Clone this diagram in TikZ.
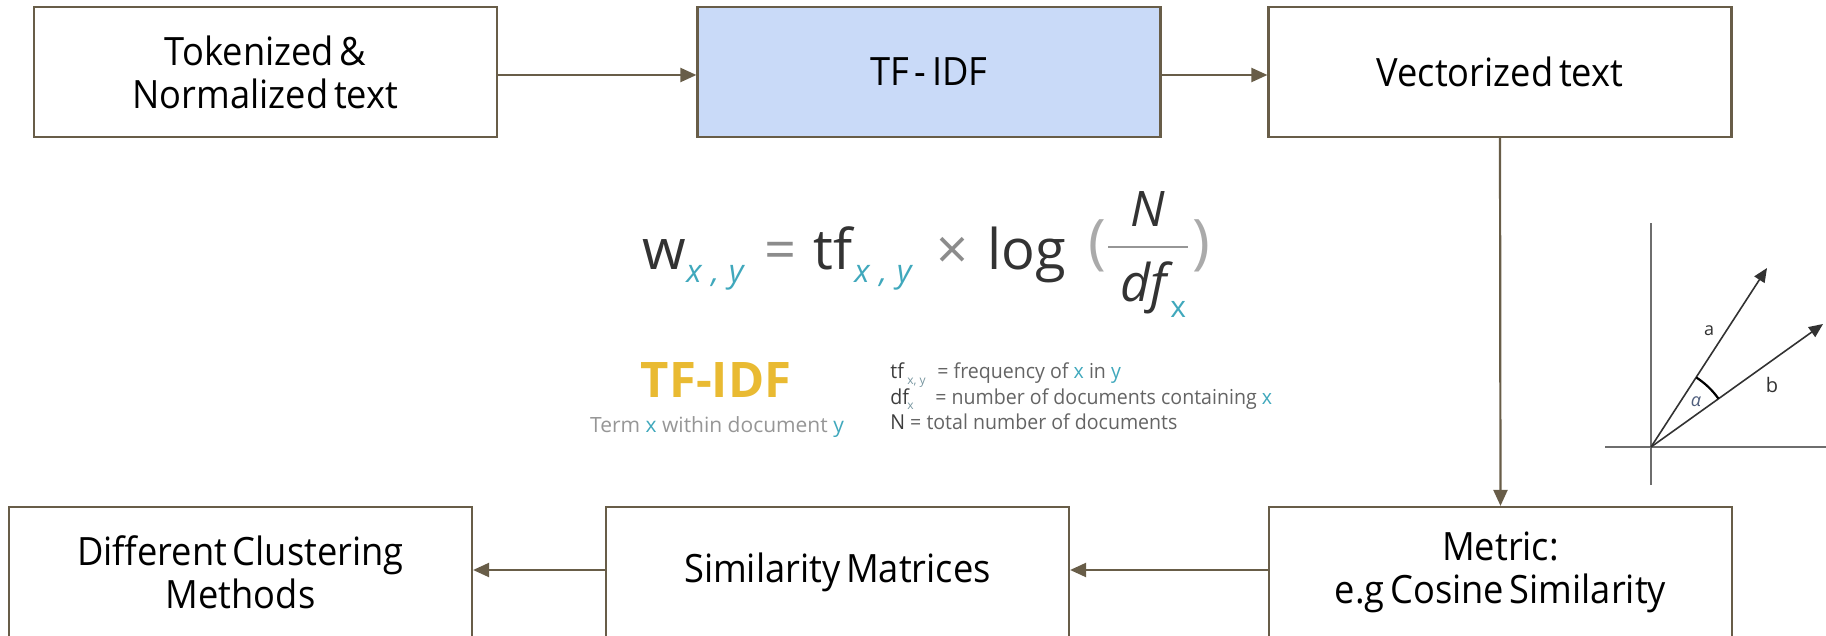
\documentclass[tikz,border=0pt]{standalone}
\usepackage{fontspec}
\setmainfont{Open Sans}
\newfontfamily\boxfont[FakeStretch=0.93, WordSpace=0.6]{Open Sans}
\newfontfamily\legfont[FakeStretch=0.95]{Open Sans}
\usetikzlibrary{arrows.meta}
\definecolor{bline}{RGB}{104,93,72}
\definecolor{bfill}{RGB}{201,218,248}
\definecolor{teal1}{RGB}{64,168,188}
\definecolor{gold1}{RGB}{233,186,50}
\definecolor{ink}{RGB}{51,51,51}
\definecolor{opgray}{RGB}{140,140,140}
\definecolor{pgray}{RGB}{170,170,170}
\definecolor{lgray}{RGB}{150,150,150}
\definecolor{ltext}{RGB}{100,100,100}
\definecolor{ldark}{RGB}{60,60,60}
\definecolor{subgray}{RGB}{120,150,160}
\definecolor{vink}{RGB}{50,50,50}
\definecolor{axgray}{RGB}{110,110,110}
\definecolor{alphac}{RGB}{80,95,125}
\begin{document}
\begin{tikzpicture}[x=0.5pt,y=-0.5pt,
  flowbox/.style={draw=bline, line width=1.1pt, minimum width=231.5pt, minimum height=65pt,
    inner sep=0pt, align=center, font=\boxfont\fontsize{19.5}{21.5}\selectfont, text=black},
  flow/.style={draw=bline, line width=1.1pt, -{Triangle[length=8pt,width=7pt]}},
  fm/.style={anchor=base west, inner sep=0pt, text=ink},
  fbig/.style={font=\fontsize{28}{28}\selectfont},
  fsub/.style={font=\itshape\fontsize{16}{16}\selectfont, text=teal1},
  ffrac/.style={font=\itshape\fontsize{24.5}{24.5}\selectfont},
  fparen/.style={font=\fontsize{30}{30}\selectfont, text=pgray},
  lg/.style={anchor=base west, inner sep=0pt, font=\legfont\fontsize{10.3}{10.3}\selectfont, text=ltext},
  lgsub/.style={anchor=base west, inner sep=0pt, font=\fontsize{6}{6}\selectfont, text=subgray},
  axis/.style={draw=axgray, line width=0.8pt},
  vecline/.style={draw=vink, line width=0.8pt, -{Triangle[length=7pt,width=6pt]}},
  vlab/.style={inner sep=0pt, text=vink}
]
\useasboundingbox (0,0) rectangle (1826,636);
\clip (0,0) rectangle (1826,636);

% flow boxes
\node[flowbox] (tok) at (265.5,72) {Tokenized \&\\Normalized text};
\node[flowbox, fill=bfill] (tfidf) at (929,72) {TF - IDF};
\node[flowbox] (vec) at (1500,72) {Vectorized text};
\node[flowbox] (met) at (1500.5,572) {Metric:\\e.g Cosine Similarity};
\node[flowbox] (sim) at (837.5,572) {Similarity Matrices};
\node[flowbox] (clu) at (240.5,572) {Different Clustering\\Methods};

% connectors
\draw[flow] ([yshift=-1.5pt]tok.east) -- ([yshift=-1.5pt]tfidf.west);
\draw[flow] ([yshift=-1.5pt]tfidf.east) -- ([yshift=-1.5pt]vec.west);
\draw[flow] (vec.south) -- (met.north);
\draw[flow] ([yshift=1pt]met.west) -- ([yshift=1pt]sim.east);
\draw[flow] ([yshift=1pt]sim.west) -- ([yshift=1pt]clu.east);

% formula
\node[fm, fbig] (fw) at (642,270) {w};
\node[fm, fsub] (fwx) at (686,283) {x\hspace{0.3em},\hspace{0.3em}y};
\node[fm, fbig, text=opgray] (feq) at (764,270) {=};
\node[fm, fbig] (ftf) at (813,270) {tf};
\node[fm, fsub] (ftfx) at (854,283) {x\hspace{0.3em},\hspace{0.3em}y};
\node[fm, fbig, text=opgray] (ftimes) at (936,270) {×};
\node[fm, fbig] (flog) at (987,270) {log};
\node[fm, fparen] (flp) at (1088,263) {(};
\node[anchor=base, inner sep=0pt, text=ink, ffrac] (fN) at (1148,227) {N};
\draw[draw=lgray, line width=1.3pt] (1108,247) -- (1188,247);
\node[fm, ffrac, font=\itshape\fontsize{26}{26}\selectfont] (fdf) at (1120,302) {df};
\node[fm, font=\fontsize{15}{15}\selectfont, text=teal1] (fdfx) at (1170,318) {x};
\node[fm, fparen] (frp) at (1192,263) {)};

% legend
\node[anchor=base, inner sep=0pt, font=\bfseries\fontsize{24.5}{24.5}\selectfont, text=gold1] (ltitle) at (716,397) {TF-IDF};
\node[anchor=base, inner sep=0pt, font=\fontsize{10.5}{10.5}\selectfont, text=lgray] (lterm) at (717,432)
  {Term \textcolor{teal1}{x} within document \textcolor{teal1}{y}};
\node[lg, text=ldark] (l1a) at (890,379) {tf};
\node[lgsub] (l1b) at (907,384) {x, y};
\node[lg] (l1c) at (937,379) {= frequency of \textcolor{teal1}{x} in \textcolor{teal1}{y}};
\node[lg, text=ldark] (l2a) at (890,404) {df};
\node[lgsub] (l2b) at (907,409) {x};
\node[lg] (l2c) at (935,404) {= number of documents containing \textcolor{teal1}{x}};
\node[lg] (l3) at (890,429) {\textcolor{ldark}{N} = total number of documents};

% vector sketch
\coordinate (O) at (1651,447);
\coordinate (ytop) at (1651,223);
\coordinate (ybot) at (1651,485);
\coordinate (xl) at (1605,447);
\coordinate (xr) at (1826,447);
\coordinate (atip) at (1767,268);
\coordinate (btip) at (1823,324);
\draw[axis] (ybot) -- (ytop);
\draw[axis] (xl) -- (xr);
\draw[vecline] (O) -- (atip);
\draw[vecline] (O) -- (btip);
\draw[draw=black, line width=1.1pt] (1718.5,398.7) arc[start angle=-35.6, end angle=-57, radius=83];
\node[vlab, font=\fontsize{9}{9}\selectfont] (la) at (1709,331) {a};
\node[vlab, font=\fontsize{10}{10}\selectfont] (lb) at (1772,385) {b};
\node[vlab, font=\itshape\fontsize{9}{9}\selectfont, text=alphac] (lal) at (1696,402) {α};
\end{tikzpicture}
\end{document}
